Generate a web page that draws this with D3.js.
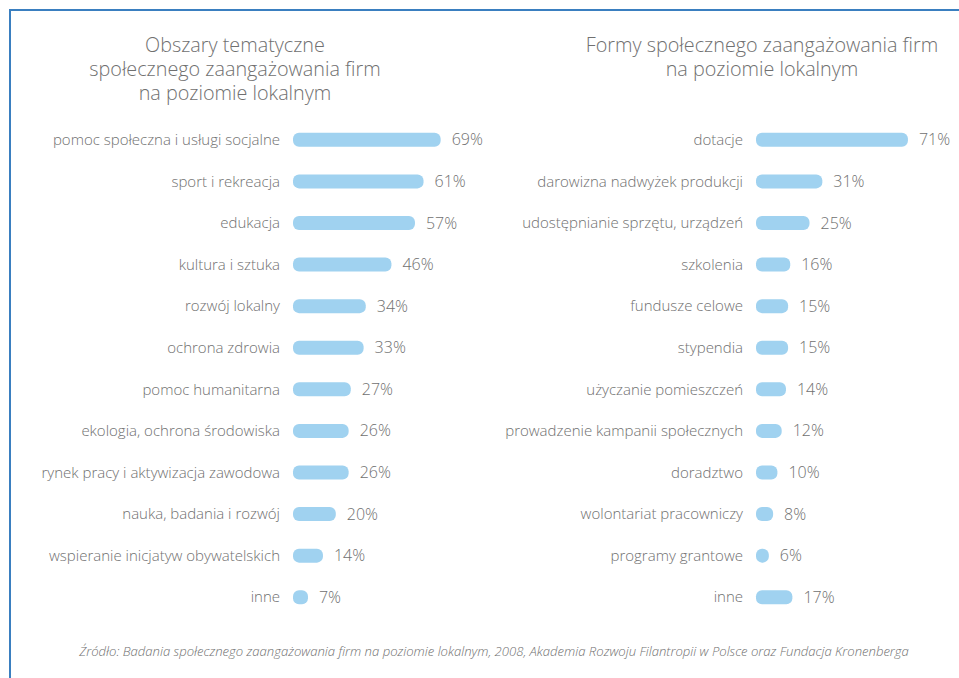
<!DOCTYPE html>
<html>
<head>
<meta charset="utf-8">
<script src="https://cdn.jsdelivr.net/npm/d3@7"></script>
<style>
  body { margin: 0; background: #fff; }
  text { font-family: "Open Sans", sans-serif; fill: #707070; font-weight: 300; }
</style>
</head>
<body>
<div id="chart"></div>
<script>
var svgWidth = 959;
var svgHeight = 678;

// left panel data
var leftTitle = ["Obszary tematyczne", "społecznego zaangażowania firm", "na poziomie lokalnym"];
var leftCategories = [
  "pomoc społeczna i usługi socjalne",
  "sport i rekreacja",
  "edukacja",
  "kultura i sztuka",
  "rozwój lokalny",
  "ochrona zdrowia",
  "pomoc humanitarna",
  "ekologia, ochrona środowiska",
  "rynek pracy i aktywizacja zawodowa",
  "nauka, badania i rozwój",
  "wspieranie inicjatyw obywatelskich",
  "inne"
];
var leftValues = [69, 61, 57, 46, 34, 33, 27, 26, 26, 20, 14, 7];

// right panel data
var rightTitle = ["Formy społecznego zaangażowania firm", "na poziomie lokalnym"];
var rightCategories = [
  "dotacje",
  "darowizna nadwyżek produkcji",
  "udostępnianie sprzętu, urządzeń",
  "szkolenia",
  "fundusze celowe",
  "stypendia",
  "użyczanie pomieszczeń",
  "prowadzenie kampanii społecznych",
  "doradztwo",
  "wolontariat pracowniczy",
  "programy grantowe",
  "inne"
];
var rightValues = [71, 31, 25, 16, 15, 15, 14, 12, 10, 8, 6, 17];

var sourceText = "Źródło: Badania społecznego zaangażowania firm na poziomie lokalnym, 2008, Akademia Rozwoju Filantropii w Polsce oraz Fundacja Kronenberga";

var barColor = "#a0d2f0";

var svg = d3.select("#chart")
  .append("svg")
  .attr("width", svgWidth)
  .attr("height", svgHeight);

// frame: top and left blue line
svg.append("path")
  .attr("d", "M10," + svgHeight + " L10,10 L" + svgWidth + ",10")
  .attr("fill", "none")
  .attr("stroke", "#3a7fc0")
  .attr("stroke-width", 2);

var x = d3.scaleLinear().domain([0, 100]).range([0, 214]);

function drawPanel(title, titleX, categories, values, barX) {
  var g = svg.append("g");

  g.selectAll(".title")
    .data(title)
    .enter()
    .append("text")
    .attr("class", "title")
    .attr("x", titleX)
    .attr("y", (d, i) => 52 + i * 24)
    .attr("text-anchor", "middle")
    .style("font-size", "19.8px")
    .text(d => d);

  var y = d3.scaleBand()
    .domain(categories)
    .range([119, 618])
    .paddingInner(0.66)
    .paddingOuter(0.33);

  var row = g.selectAll(".row")
    .data(categories)
    .enter()
    .append("g")
    .attr("class", "row")
    .attr("transform", d => "translate(0," + (y(d) + y.bandwidth() / 2) + ")");

  row.append("text")
    .attr("x", barX - 13)
    .attr("dy", "0.35em")
    .attr("text-anchor", "end")
    .style("font-size", "15px")
    .text(d => d);

  row.append("rect")
    .attr("x", barX)
    .attr("y", -7)
    .attr("height", 14)
    .attr("width", (d, i) => x(values[i]))
    .attr("rx", 6)
    .attr("ry", 6)
    .attr("fill", barColor);

  row.append("text")
    .attr("x", (d, i) => barX + x(values[i]) + 11)
    .attr("dy", "0.35em")
    .style("font-size", "16px")
    .text((d, i) => values[i] + "%");
}

drawPanel(leftTitle, 235, leftCategories, leftValues, 293);
drawPanel(rightTitle, 762, rightCategories, rightValues, 756);

svg.append("text")
  .attr("x", 494)
  .attr("y", 656)
  .attr("text-anchor", "middle")
  .style("font-size", "13.1px")
  .style("font-style", "italic")
  .text(sourceText);
</script>
</body>
</html>
